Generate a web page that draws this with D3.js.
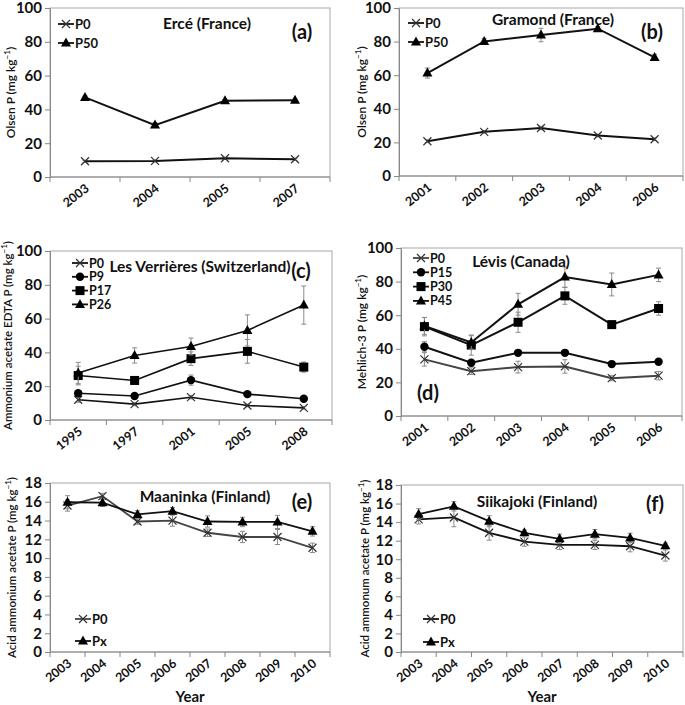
<!DOCTYPE html>
<html>
<head>
<meta charset="utf-8">
<script src="https://cdn.jsdelivr.net/npm/d3@7"></script>
<style>
  body { margin: 0; background: #fff; }
  text { font-family: Lato, "Open Sans", "Liberation Sans", sans-serif; fill: #111; }
  .tick text { font-weight: bold; }
</style>
</head>
<body>
<div class="chart"></div>
<script>
// ---- data ----
const yearsA = ["2003", "2004", "2005", "2007"];
const aP0 = [9.3, 9.5, 11.1, 10.5];
const aP0err = [0.6, 0.6, 0.6, 0.6];
const aP50 = [47.1, 30.7, 45.1, 45.4];
const aP50err = [0.8, 1.5, 0.8, 0.6];

const yearsB = ["2001", "2002", "2003", "2004", "2006"];
const bP0 = [20.7, 26.3, 28.6, 24.1, 21.9];
const bP0err = [0.8, 0.8, 1.0, 0.8, 0.8];
const bP50 = [61.3, 80.1, 83.9, 87.7, 70.6];
const bP50err = [3.0, 1.8, 4.0, 1.2, 1.8];

const yearsC = ["1995", "1997", "2001", "2005", "2008"];
const cP0 = [12.0, 9.4, 13.5, 8.6, 7.2];
const cP0err = [1.5, 1.0, 1.0, 0.8, 0.8];
const cP9 = [15.8, 14.2, 23.6, 15.3, 12.6];
const cP9err = [1.5, 1.0, 3.0, 1.2, 1.0];
const cP17 = [26.3, 23.4, 36.3, 40.6, 31.3];
const cP17err = [5.5, 1.0, 4.0, 7.0, 3.0];
const cP26 = [27.8, 38.2, 43.5, 53.0, 68.0];
const cP26err = [6.3, 4.5, 5.0, 9.2, 11.3];

const yearsD = ["2001", "2002", "2003", "2004", "2005", "2006"];
const dP0 = [33.7, 26.7, 29.1, 29.5, 22.5, 24.0];
const dP0err = [4.0, 2.0, 3.5, 4.0, 1.5, 2.5];
const dP15 = [41.2, 31.7, 37.6, 37.6, 30.9, 32.3];
const dP15err = [3.0, 2.0, 1.5, 1.5, 1.2, 1.2];
const dP30 = [53.2, 42.2, 55.8, 71.5, 54.4, 64.0];
const dP30err = [5.5, 6.0, 6.0, 5.0, 2.0, 4.0];
const dP45 = [53.6, 43.8, 66.5, 82.7, 78.3, 84.0];
const dP45err = [5.0, 4.0, 6.5, 6.0, 6.8, 4.0];

const yearsE = ["2003", "2004", "2005", "2006", "2007", "2008", "2009", "2010"];
const eP0 = [15.6, 16.6, 13.9, 14.0, 12.7, 12.25, 12.25, 11.1];
const eP0err = [0.6, 0.3, 0.3, 0.6, 0.4, 0.6, 0.8, 0.5];
const ePx = [15.95, 15.9, 14.65, 15.0, 13.9, 13.85, 13.85, 12.85];
const ePxerr = [0.7, 0.4, 0.4, 0.4, 0.6, 0.5, 0.7, 0.5];

const yearsF = ["2003", "2004", "2005", "2006", "2007", "2008", "2009", "2010"];
const fP0 = [14.3, 14.5, 12.85, 11.9, 11.55, 11.55, 11.4, 10.4];
const fP0err = [0.5, 1.0, 0.8, 0.5, 0.5, 0.5, 0.6, 0.6];
const fPx = [14.85, 15.7, 14.1, 12.85, 12.2, 12.7, 12.3, 11.45];
const fPxerr = [0.6, 0.5, 0.6, 0.3, 0.5, 0.5, 0.5, 0.3];

const svg = d3.select(".chart").append("svg")
  .attr("width", 685)
  .attr("height", 705);

// draw one marker symbol
function marker(g, type, x, y) {
  if (type === "cross") {
    g.append("path")
      .attr("d", `M${x - 4},${y - 4}L${x + 4},${y + 4}M${x - 4},${y + 4}L${x + 4},${y - 4}`)
      .attr("stroke", "#333").attr("stroke-width", 1.2).attr("fill", "none");
  } else if (type === "circle") {
    g.append("circle").attr("cx", x).attr("cy", y).attr("r", 4.2).attr("fill", "#000");
  } else if (type === "square") {
    g.append("rect").attr("x", x - 4.5).attr("y", y - 4.5)
      .attr("width", 9).attr("height", 9).attr("fill", "#000");
  } else {
    g.append("path")
      .attr("d", `M${x},${y - 5.5}L${x + 5},${y + 3.5}L${x - 5},${y + 3.5}Z`)
      .attr("fill", "#000");
  }
}

function panel(p) {
  const g = svg.append("g");

  const x = d3.scaleBand().domain(p.years).range([p.x0, p.x1]).paddingInner(0).paddingOuter(0);
  const y = d3.scaleLinear().domain([0, p.yMax]).range([p.yBot, p.yTop]);

  // plot area border
  g.append("rect")
    .attr("x", p.x0).attr("y", p.yTop)
    .attr("width", p.x1 - p.x0).attr("height", p.yBot - p.yTop)
    .attr("fill", "none").attr("stroke", "#a8a8a8").attr("stroke-width", 1);

  // y axis
  const yAxis = g.append("g")
    .attr("transform", `translate(${p.x0},0)`)
    .call(d3.axisLeft(y).tickValues(d3.range(0, p.yMax + 1, p.yStep)).tickSize(5).tickPadding(3));
  yAxis.select(".domain").attr("stroke", "#888");
  yAxis.selectAll(".tick line").attr("stroke", "#888");
  yAxis.selectAll(".tick text").attr("font-size", 15);

  // x axis: boundary ticks and rotated labels
  const xAxis = g.append("g")
    .attr("transform", `translate(0,${p.yBot})`);
  xAxis.append("line").attr("x1", p.x0).attr("x2", p.x1)
    .attr("stroke", "#888");
  const bounds = p.years.map(d => x(d)).concat([p.x1]);
  xAxis.selectAll("line.tk").data(bounds).enter().append("line")
    .attr("class", "tk")
    .attr("x1", d => d).attr("x2", d => d)
    .attr("y1", 0).attr("y2", 5)
    .attr("stroke", "#888");
  xAxis.selectAll("text").data(p.years).enter().append("text")
    .attr("transform", d => `translate(${x(d) + x.bandwidth() / 2 + 5},${13}) rotate(-38)`)
    .attr("text-anchor", "end")
    .attr("font-size", 12.5)
    .attr("font-weight", "bold")
    .text(d => d);

  // series
  const cx = d => x(d) + x.bandwidth() / 2;
  p.series.forEach(s => {
    const pts = p.years.map((yr, i) => ({ yr, v: s.values[i], e: s.err[i] }));
    // error bars
    const eb = g.append("g").attr("stroke", "#8a8a8a").attr("stroke-width", 1);
    pts.forEach(d => {
      const xx = cx(d.yr);
      eb.append("line").attr("x1", xx).attr("x2", xx).attr("y1", y(d.v - d.e)).attr("y2", y(d.v + d.e));
      eb.append("line").attr("x1", xx - 2.5).attr("x2", xx + 2.5).attr("y1", y(d.v - d.e)).attr("y2", y(d.v - d.e));
      eb.append("line").attr("x1", xx - 2.5).attr("x2", xx + 2.5).attr("y1", y(d.v + d.e)).attr("y2", y(d.v + d.e));
    });
    g.append("path")
      .datum(pts)
      .attr("fill", "none")
      .attr("stroke", s.color || "#111")
      .attr("stroke-width", s.width || 2)
      .attr("d", d3.line().x(d => cx(d.yr)).y(d => y(d.v)));
    const mg = g.append("g");
    pts.forEach(d => marker(mg, s.marker, cx(d.yr), y(d.v)));
  });

  // legend
  p.series.forEach((s, i) => {
    const ly = p.legY + i * p.legStep;
    g.append("line")
      .attr("x1", p.legX).attr("x2", p.legX + 16)
      .attr("y1", ly).attr("y2", ly)
      .attr("stroke", s.color || "#111").attr("stroke-width", 1.8);
    marker(g, s.marker, p.legX + 8, ly);
    g.append("text")
      .attr("x", p.legX + 17).attr("y", ly + 4.5)
      .attr("font-size", p.legSize || 13).attr("font-weight", "bold")
      .text(s.name);
  });

  // site title and panel letter
  g.append("text")
    .attr("x", p.titleX).attr("y", p.titleY)
    .attr("text-anchor", "middle")
    .attr("font-size", 15.5).attr("font-weight", "bold")
    .text(p.title);
  g.append("text")
    .attr("x", p.letX).attr("y", p.letY)
    .attr("text-anchor", "middle")
    .attr("font-size", 20).attr("font-weight", "bold")
    .text(p.letter);

  // y axis label with superscript
  const lab = g.append("text")
    .attr("transform", `translate(${p.labX},${(p.yTop + p.yBot) / 2}) rotate(-90)`)
    .attr("text-anchor", "middle")
    .attr("font-size", p.labSize || 12)
    .attr("font-weight", 600);
  lab.append("tspan").text(p.label + " (mg kg");
  lab.append("tspan").attr("font-size", 8).attr("dy", -5).text("−1");
  lab.append("tspan").attr("dy", 5).text(")");

  if (p.xTitle) {
    g.append("text")
      .attr("x", (p.x0 + p.x1) / 2).attr("y", 702)
      .attr("text-anchor", "middle")
      .attr("font-size", 15).attr("font-weight", "bold")
      .text(p.xTitle);
  }
}

panel({
  x0: 50, x1: 330, yTop: 8, yBot: 177, yMax: 100, yStep: 20,
  years: yearsA,
  series: [
    { name: "P0", marker: "cross", values: aP0, err: aP0err },
    { name: "P50", marker: "triangle", values: aP50, err: aP50err }
  ],
  legX: 58, legY: 24, legStep: 19,
  title: "Ercé (France)", titleX: 207, titleY: 29,
  letter: "(a)", letX: 302, letY: 39,
  label: "Olsen P", labX: 15
});

panel({
  x0: 399, x1: 683, yTop: 8, yBot: 176, yMax: 100, yStep: 20,
  years: yearsB,
  series: [
    { name: "P0", marker: "cross", values: bP0, err: bP0err },
    { name: "P50", marker: "triangle", values: bP50, err: bP50err }
  ],
  legX: 408, legY: 23, legStep: 19,
  title: "Gramond (France)", titleX: 553, titleY: 25,
  letter: "(b)", letX: 652, letY: 39,
  label: "Olsen P", labX: 366
});

panel({
  x0: 50, x1: 332, yTop: 251, yBot: 420, yMax: 100, yStep: 20,
  years: yearsC,
  series: [
    { name: "P0", marker: "cross", values: cP0, err: cP0err, width: 1.6 },
    { name: "P9", marker: "circle", values: cP9, err: cP9err, width: 1.6 },
    { name: "P17", marker: "square", values: cP17, err: cP17err, width: 1.6 },
    { name: "P26", marker: "triangle", values: cP26, err: cP26err, width: 1.6 }
  ],
  legX: 72, legY: 263, legStep: 13.8, legSize: 12.5,
  title: "Les Verrières (Switzerland)", titleX: 200, titleY: 272,
  letter: "(c)", letX: 301, letY: 278,
  label: "Ammonium acetate EDTA P", labX: 12, labSize: 11.5
});

panel({
  x0: 401, x1: 682, yTop: 248, yBot: 416, yMax: 100, yStep: 20,
  years: yearsD,
  series: [
    { name: "P0", marker: "cross", values: dP0, err: dP0err, color: "#444" },
    { name: "P15", marker: "circle", values: dP15, err: dP15err },
    { name: "P30", marker: "square", values: dP30, err: dP30err },
    { name: "P45", marker: "triangle", values: dP45, err: dP45err }
  ],
  legX: 413, legY: 258, legStep: 14.3, legSize: 12.5,
  title: "Lévis (Canada)", titleX: 521, titleY: 267,
  letter: "(d)", letX: 428, letY: 400,
  label: "Mehlich-3 P", labX: 366
});

panel({
  x0: 50, x1: 330, yTop: 483, yBot: 652, yMax: 18, yStep: 2,
  years: yearsE,
  series: [
    { name: "P0", marker: "cross", values: eP0, err: eP0err, color: "#444", width: 1.8 },
    { name: "Px", marker: "triangle", values: ePx, err: ePxerr, width: 1.8 }
  ],
  legX: 75, legY: 619, legStep: 22,
  title: "Maaninka (Finland)", titleX: 205, titleY: 502,
  letter: "(e)", letX: 302, letY: 509,
  label: "Acid ammonium acetate P", labX: 16, labSize: 11.5,
  xTitle: "Year"
});

panel({
  x0: 401, x1: 683, yTop: 485, yBot: 652, yMax: 18, yStep: 2,
  years: yearsF,
  series: [
    { name: "P0", marker: "cross", values: fP0, err: fP0err, width: 1.8 },
    { name: "Px", marker: "triangle", values: fPx, err: fPxerr, width: 1.8 }
  ],
  legX: 423, legY: 619, legStep: 23,
  title: "Siikajoki (Finland)", titleX: 537, titleY: 507,
  letter: "(f)", letX: 655, letY: 511,
  label: "Acid ammonum acetate P", labX: 369, labSize: 11.5,
  xTitle: "Year"
});
</script>
</body>
</html>
